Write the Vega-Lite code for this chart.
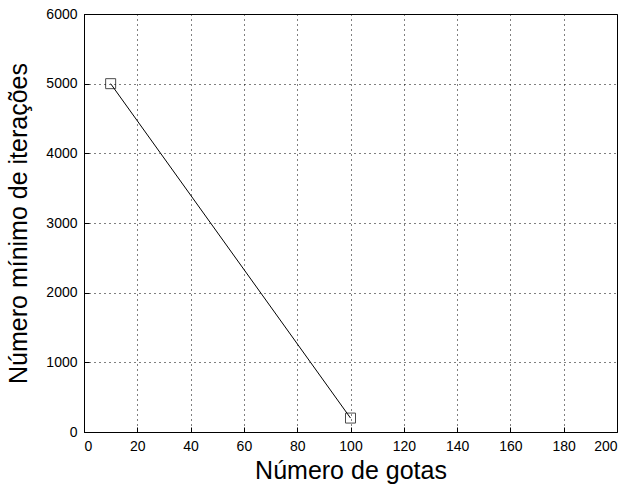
{
  "$schema": "https://vega.github.io/schema/vega-lite/v6.json",
  "width": 533,
  "height": 418,
  "autosize": {"type": "none"},
  "padding": {"left": 84, "top": 14, "right": 16, "bottom": 54},
  "background": "white",
  "title": {"text": "Relação entre o número de gotas e o número mínimo de iterações por simulação", "fontSize": 15, "font": "Liberation Sans", "fontWeight": "normal", "color": "black", "offset": 0, "baseline": "alphabetic", "dy": -15},
  "config": {
    "view": {"stroke": "black", "strokeWidth": 1},
    "axis": {
      "domainColor": "black", "tickColor": "black", "gridColor": "black",
      "gridDash": [1, 4], "gridOpacity": 1, "gridWidth": 1,
      "labelFont": "Liberation Sans", "labelFontSize": 14, "labelColor": "black",
      "titleFont": "Liberation Sans", "titleFontSize": 25, "titleFontWeight": "normal", "titleColor": "black",
      "tickSize": -5, "labelPadding": 12
    }
  },
  "data": {"values": [{"gotas": 10, "iter": 5000}, {"gotas": 100, "iter": 200}]},
  "layer": [
    {
      "mark": {"type": "line", "color": "black", "strokeWidth": 1},
      "encoding": {
        "x": {"field": "gotas", "type": "quantitative", "scale": {"domain": [0, 200], "nice": false},
              "axis": {"values": [0,20,40,60,80,100,120,140,160,180,200], "format": "d", "title": "Número de gotas", "titlePadding": 5}},
        "y": {"field": "iter", "type": "quantitative", "scale": {"domain": [0, 6000], "nice": false},
              "axis": {"values": [0,1000,2000,3000,4000,5000,6000], "format": "d", "title": "Número mínimo de iterações", "titlePadding": 14}}
      }
    },
    {
      "mark": {"type": "point", "shape": "square", "filled": false, "color": "black", "size": 100, "strokeWidth": 1},
      "encoding": {
        "x": {"field": "gotas", "type": "quantitative"},
        "y": {"field": "iter", "type": "quantitative"}
      }
    }
  ]
}
